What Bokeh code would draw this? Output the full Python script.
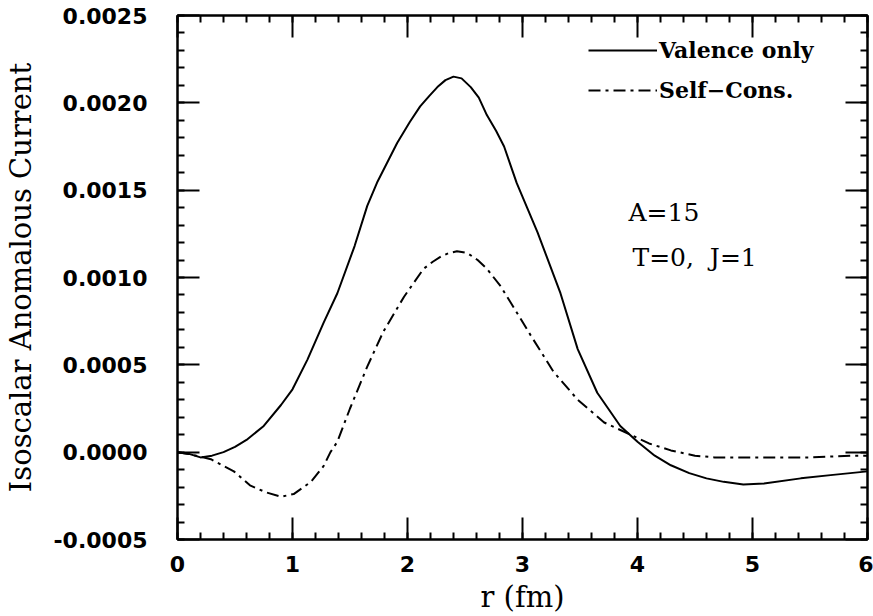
from bokeh.plotting import figure
from bokeh.models import (Range1d, LinearAxis, SingleIntervalTicker, PrintfTickFormatter,
                          CustomJSTickFormatter, Legend, LegendItem, Label)
from bokeh.embed import file_html
from bokeh.resources import INLINE

# --- data ---
r_valence = [0.0, 0.1, 0.2, 0.3, 0.4, 0.5, 0.6, 0.75, 0.9, 1.0, 1.13, 1.27, 1.39, 1.54,
             1.65, 1.74, 1.91, 2.02, 2.11, 2.19, 2.26, 2.33, 2.40, 2.47, 2.55, 2.62,
             2.69, 2.77, 2.84, 2.95, 3.13, 3.33, 3.48, 3.65, 3.85, 4.0, 4.15, 4.29,
             4.45, 4.6, 4.75, 4.92, 5.1, 5.42, 5.7, 6.0]
j_valence = [0.0, -0.00001, -0.00003, -0.00002, 0.0, 0.00003, 0.00007, 0.00015, 0.00027,
             0.00036, 0.00053, 0.00074, 0.00091, 0.00118, 0.00141, 0.00155, 0.00177,
             0.00189, 0.00198, 0.00204, 0.00209, 0.00213, 0.00215, 0.00214, 0.00209,
             0.00203, 0.00193, 0.00184, 0.00175, 0.00154, 0.00126, 0.00091, 0.00059,
             0.00034, 0.00015, 0.00006, -0.00002, -0.000075, -0.00012, -0.00015,
             -0.00017, -0.000185, -0.00018, -0.00015, -0.00013, -0.00011]

r_selfcons = [0.0, 0.1, 0.29, 0.49, 0.63, 0.77, 0.90, 1.01, 1.16, 1.27, 1.33, 1.39, 1.5,
              1.65, 1.79, 1.97, 2.14, 2.22, 2.29, 2.36, 2.43, 2.52, 2.61, 2.69, 2.81,
              2.95, 3.07, 3.27, 3.48, 3.71, 3.94, 4.1, 4.29, 4.5, 4.67, 5.13, 5.5,
              5.85, 6.0]
j_selfcons = [0.0, -0.00001, -0.00004, -0.00011, -0.00019, -0.00023, -0.000255, -0.00024,
              -0.00017, -0.00008, 0.0, 0.00006, 0.00025, 0.00049, 0.00069, 0.00089,
              0.00105, 0.00109, 0.00112, 0.00114, 0.00115, 0.00114, 0.00110, 0.00105,
              0.00095, 0.00080, 0.00067, 0.00046, 0.00030, 0.00017, 0.00010, 0.00005,
              0.00001, -0.00002, -0.00003, -0.00003, -0.00003, -0.00002, -0.00002]

series_labels = ["Valence only", "Self\u2212Cons."]
annot_lines = ["A=15", "T=0,\u00a0 J=1"]
x_label = "r (fm)"
y_label = "Isoscalar Anomalous Current"

p = figure(width=873, height=616, output_backend="svg", toolbar_location=None,
           x_range=Range1d(0, 6), y_range=Range1d(-0.0005, 0.0025),
           x_axis_type=None, y_axis_type=None,
           min_border_left=177, min_border_right=6, min_border_top=15, min_border_bottom=75)
p.background_fill_color = "white"
p.border_fill_color = "white"
p.outline_line_color = "black"
p.outline_line_width = 2
p.xgrid.visible = False
p.ygrid.visible = False

TICK_FONT = "DejaVu Sans"
LABEL_FONT = "DejaVu Serif"

def style_axis(ax, show_labels):
    ax.axis_line_color = "black"
    ax.axis_line_width = 2
    ax.major_tick_in = 22
    ax.major_tick_out = 0
    ax.minor_tick_in = 7
    ax.minor_tick_out = 0
    ax.major_tick_line_width = 2
    ax.minor_tick_line_width = 2
    ax.major_tick_line_color = "black"
    ax.minor_tick_line_color = "black"
    if show_labels:
        ax.major_label_text_font = TICK_FONT
        ax.major_label_text_font_size = "22px"
        ax.major_label_text_font_style = "bold"
        ax.major_label_text_color = "black"
    else:
        ax.formatter = CustomJSTickFormatter(code="return ''")
        ax.major_label_standoff = 0

xt = lambda: SingleIntervalTicker(interval=1, num_minor_ticks=5)
yt = lambda: SingleIntervalTicker(interval=0.0005, num_minor_ticks=5)

xb = LinearAxis(ticker=xt(), axis_label=x_label)
style_axis(xb, True)
xb.major_label_standoff = 16
xb.axis_label_standoff = 5
xb.axis_label_text_font = LABEL_FONT
xb.axis_label_text_font_size = "29px"
xb.axis_label_text_font_style = "normal"
xb.axis_label_text_color = "black"
p.add_layout(xb, "below")

yl = LinearAxis(ticker=yt(), axis_label=y_label, formatter=PrintfTickFormatter(format="%.4f"))
style_axis(yl, True)
yl.major_label_standoff = 30
yl.axis_label_standoff = 12
yl.axis_label_text_font = LABEL_FONT
yl.axis_label_text_font_size = "29px"
yl.axis_label_text_font_style = "normal"
yl.axis_label_text_color = "black"
p.add_layout(yl, "left")

xtop = LinearAxis(ticker=xt())
style_axis(xtop, False)
p.add_layout(xtop, "above")

yr = LinearAxis(ticker=yt())
style_axis(yr, False)
p.add_layout(yr, "right")

l1 = p.line(r_valence, j_valence, line_color="black", line_width=2)
l2 = p.line(r_selfcons, j_selfcons, line_color="black", line_width=2, line_dash="12 5 3 5")

legend = Legend(items=[LegendItem(label=series_labels[0], renderers=[l1]),
                       LegendItem(label=series_labels[1], renderers=[l2])],
                location=(411, 429), orientation="vertical",
                padding=0, margin=0, spacing=0, border_line_color=None,
                background_fill_alpha=0, glyph_width=69, glyph_height=40,
                label_height=40, label_standoff=2,
                label_text_font=LABEL_FONT, label_text_font_style="bold",
                label_text_font_size="22px", label_text_color="black")
p.add_layout(legend)

p.add_layout(Label(x=451, y=313, x_units="screen", y_units="screen", text=annot_lines[0],
                   text_font=LABEL_FONT, text_font_size="25px", text_color="black"))
p.add_layout(Label(x=455, y=268, x_units="screen", y_units="screen", text=annot_lines[1],
                   text_font=LABEL_FONT, text_font_size="25px", text_color="black"))

open("out.html", "w").write(file_html(p, INLINE))
